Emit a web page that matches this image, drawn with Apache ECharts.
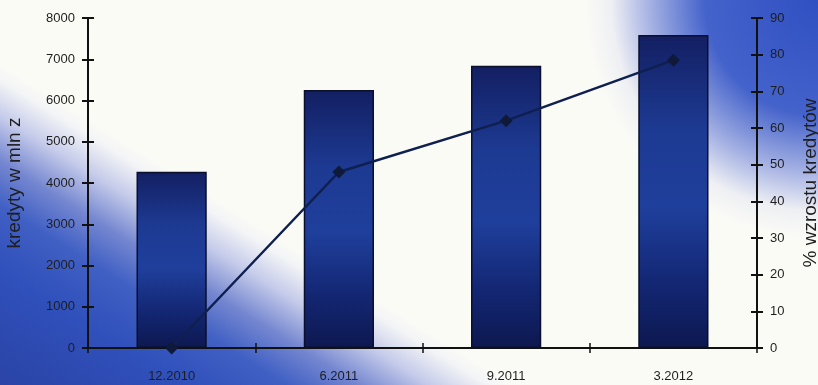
<!DOCTYPE html>
<html><head><meta charset="utf-8">
<script src="https://cdn.jsdelivr.net/npm/echarts@6/dist/echarts.min.js"></script>
<style>
html,body{margin:0;padding:0}
#c{width:818px;height:385px;
 background:
  radial-gradient(ellipse 235px 240px at 100% 0%, rgba(48,80,194,1) 0%, rgba(58,90,200,0.95) 48%, rgba(110,130,215,0.6) 72%, rgba(200,205,235,0.25) 88%, rgba(250,250,246,0) 100%),
  linear-gradient(32deg, #2a44a6 0%, #3050bb 13%, #4060c4 20%, #7486d0 25%, #c5cbea 30%, #f3f4f6 34%, #fbfbf6 36%, #fbfbf6 100%);}
</style>
</head><body><div id="c"></div>
<script>
const categories = ['12.2010', '6.2011', '9.2011', '3.2012'];
const credits = [4270, 6255, 6840, 7590];
const growthPct = [0, 48, 62, 78.5];

const chart = echarts.init(document.getElementById('c'));
const barGrad = {type:'linear', x:0, y:0, x2:0, y2:1, colorStops:[
  {offset:0, color:'#131f62'}, {offset:0.3, color:'#1d3a92'}, {offset:0.55, color:'#1f3f9c'}, {offset:0.8, color:'#132672'}, {offset:1, color:'#0d1850'}]};
const font = 'Liberation Sans';
const tickLabel = {color:'#1e1e1e', fontSize:13, fontFamily:font};
chart.setOption({
  animation:false,
  backgroundColor:'transparent',
  grid:{left:88, right:61, top:18, bottom:37, outerBoundsMode:'none', containLabel:false},
  xAxis:[
    {type:'category', data:categories,
     axisLine:{lineStyle:{color:'#111', width:2}},
     axisTick:{show:true, length:5, lineStyle:{color:'#111', width:1.5}},
     axisLabel:Object.assign({margin:22}, tickLabel)},
    {type:'category', data:categories, position:'bottom',
     axisLine:{show:false},
     axisTick:{show:true, inside:true, length:5, lineStyle:{color:'#111', width:1.5}},
     axisLabel:{show:false}}
  ],
  yAxis:[
    {type:'value', min:0, max:8000, interval:1000, name:'kredyty w mln z', nameLocation:'middle', nameGap:64,
     nameTextStyle:{color:'#1e1e1e', fontSize:19, fontFamily:font},
     axisLine:{show:true, lineStyle:{color:'#111', width:2}},
     axisTick:{show:true, length:6, lineStyle:{color:'#111', width:2}},
     splitLine:{show:false},
     axisLabel:Object.assign({margin:13, formatter:v => String(v)}, tickLabel)},
    {type:'value', min:0, max:90, interval:10, name:'% wzrostu kredytów', nameLocation:'middle', nameGap:44,
     nameRotate:90,
     nameTextStyle:{color:'#1e1e1e', fontSize:19, fontFamily:font},
     axisLine:{show:true, lineStyle:{color:'#111', width:2}},
     axisTick:{show:true, length:6, lineStyle:{color:'#111', width:2}},
     splitLine:{show:false},
     axisLabel:Object.assign({margin:13}, tickLabel)},
    {type:'value', min:0, max:8000, interval:1000, position:'left',
     axisLine:{show:false}, splitLine:{show:false}, axisLabel:{show:false},
     axisTick:{show:true, inside:true, length:6, lineStyle:{color:'#111', width:2}}},
    {type:'value', min:0, max:90, interval:10, position:'right',
     axisLine:{show:false}, splitLine:{show:false}, axisLabel:{show:false},
     axisTick:{show:true, inside:true, length:6, lineStyle:{color:'#111', width:2}}}
  ],
  series:[
    {type:'bar', data:credits, barWidth:'42%', yAxisIndex:0,
     itemStyle:{color:barGrad, borderColor:'#0a0f2e', borderWidth:1.5}},
    {type:'line', data:growthPct, yAxisIndex:1, symbol:'diamond', symbolSize:13,
     lineStyle:{color:'#0f2050', width:2.5}, itemStyle:{color:'#0f1a3a'}}
  ]
});
</script></body></html>
